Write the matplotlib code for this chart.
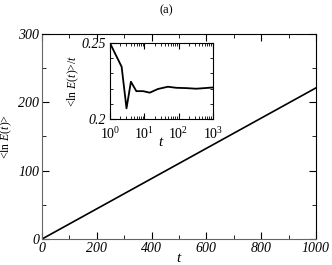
import numpy as np
import matplotlib.pyplot as plt
from matplotlib.ticker import MultipleLocator, LogLocator, NullFormatter

# main curve: <ln E(t)> vs t (straight line)
t_main = [0, 1000]
lnE_main = [0, 221]

# inset: <ln E(t)>/t vs t (log x)
t_inset = [1, 2.2, 3.05, 4.1, 5.9, 9.3, 14.5, 25, 49, 86, 168, 330, 1000]
lnE_over_t = [0.25, 0.2343, 0.207, 0.2245, 0.2183, 0.2183, 0.2173, 0.2197,
              0.2212, 0.2205, 0.2203, 0.2199, 0.2207]
inset_ticks = [1, 10, 100, 1000]
inset_ticklabels = [r'$10^{0}$', r'$10^{1}$', r'$10^{2}$', r'$10^{3}$']

plt.rcParams['font.family'] = 'Liberation Serif'
plt.rcParams['mathtext.fontset'] = 'custom'
plt.rcParams['mathtext.it'] = 'Liberation Serif:italic'
plt.rcParams['mathtext.rm'] = 'Liberation Serif'
plt.rcParams['mathtext.default'] = 'it'

fig = plt.figure(figsize=(3.32, 2.65), dpi=100)
ax = fig.add_axes([0.1265, 0.098, 0.825, 0.774])
ax.plot(t_main, lnE_main, color='black', lw=1.2)
ax.set_xlim(0, 1000)
ax.set_ylim(0, 300)
ax.xaxis.set_major_locator(MultipleLocator(200))
ax.xaxis.set_minor_locator(MultipleLocator(100))
ax.yaxis.set_major_locator(MultipleLocator(100))
ax.yaxis.set_minor_locator(MultipleLocator(50))
ax.tick_params(which='both', direction='in', top=True, right=True, labelsize=10, pad=2)
ax.tick_params(which='major', length=5)
ax.tick_params(which='minor', length=3)
for lab in ax.get_xticklabels() + ax.get_yticklabels():
    lab.set_fontstyle('italic')
for s in ['left', 'bottom']:
    ax.spines[s].set_color('#666666')
ax.set_xlabel('$t$', fontsize=11, labelpad=-2)
ax.set_ylabel(r'<ln $E(t)$>', fontsize=8.5, labelpad=3)

fig.text(0.5, 0.962, '(a)', ha='center', va='center', fontsize=9)

ins = fig.add_axes([0.331, 0.551, 0.310, 0.287])
ins.plot(t_inset, lnE_over_t, color='black', lw=1.3)
ins.set_xscale('log')
ins.set_xlim(1, 1000)
ins.set_ylim(0.2, 0.25)
ins.set_yticks([0.2, 0.25])
ins.set_yticklabels(['0.2', '0.25'])
ins.yaxis.set_minor_locator(MultipleLocator(0.01))
ins.set_xticks(inset_ticks)
ins.set_xticklabels(inset_ticklabels)
ins.xaxis.set_minor_locator(LogLocator(base=10, subs=np.arange(2, 10)))
ins.xaxis.set_minor_formatter(NullFormatter())
ins.tick_params(which='both', direction='in', top=True, right=True, labelsize=10)
ins.tick_params(axis='x', which='major', pad=5)
ins.tick_params(axis='y', which='major', pad=3)
ins.tick_params(which='major', length=4)
ins.tick_params(which='minor', length=2)
for lab in ins.get_yticklabels():
    lab.set_fontstyle('italic')
ins.set_xlabel('$t$', fontsize=11, labelpad=-4)
ins.set_ylabel(r'<ln $E(t)$>/$t$', fontsize=8.5, labelpad=0)

fig.savefig('out.png', dpi=100)
